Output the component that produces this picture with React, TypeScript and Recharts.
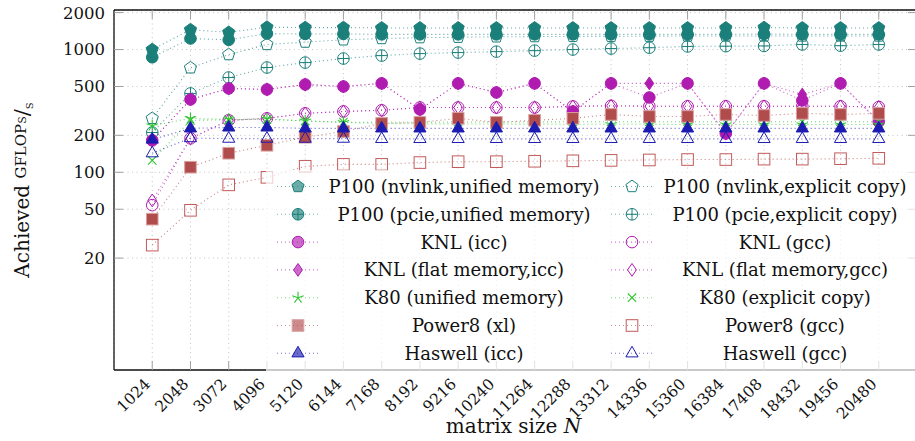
import React from 'react';
import { LineChart, Line, XAxis, YAxis, CartesianGrid, Legend } from 'recharts';

// matrix sizes N (x categories)
const sizes = [
  1024, 2048, 3072, 4096, 5120, 6144, 7168, 8192, 9216, 10240,
  11264, 12288, 13312, 14336, 15360, 16384, 17408, 18432, 19456, 20480,
];
const yTicks = [20, 50, 100, 200, 500, 1000, 2000];

// achieved GFLOP/s per series
const p100NvlinkUnified = [1000, 1450, 1380, 1520, 1510, 1510, 1500, 1500, 1500, 1500, 1500, 1500, 1500, 1500, 1500, 1500, 1510, 1500, 1500, 1500];
const p100NvlinkExplicit = [275, 710, 910, 1100, 1150, 1200, 1230, 1250, 1260, 1270, 1275, 1280, 1280, 1285, 1290, 1290, 1290, 1290, 1290, 1290];
const p100PcieUnified = [865, 1230, 1200, 1350, 1340, 1340, 1330, 1330, 1330, 1330, 1330, 1330, 1330, 1330, 1330, 1330, 1340, 1330, 1330, 1330];
const p100PcieExplicit = [211, 439, 592, 714, 783, 845, 893, 927, 945, 962, 980, 1000, 1019, 1035, 1060, 1065, 1070, 1100, 1075, 1100];
const knlIcc = [182, 392, 482, 473, 519, 500, 530, 325, 530, 447, 530, 313, 530, 407, 530, 207, 530, 385, 530, 258];
const knlGcc = [54, 189, 265, 275, 302, 313, 320, 337, 337, 337, 337, 344, 348, 345, 345, 345, 345, 345, 345, 340];
const knlFlatIcc = [182, 392, 482, 473, 519, 500, 530, 325, 530, 447, 530, 313, 530, 530, 530, 207, 530, 430, 530, 258];
const knlFlatGcc = [59, 189, 265, 275, 302, 313, 320, 337, 337, 337, 337, 344, 348, 345, 345, 345, 345, 345, 345, 340];
const k80Unified = [240, 275, 270, 272, 262, 255, 250, 248, 248, 247, 247, 246, 246, 246, 245, 245, 245, 245, 245, 245];
const k80Explicit = [125, 265, 268, 270, 262, 256, 256, 256, 257, 257, 257, 258, 258, 258, 258, 258, 258, 258, 258, 258];
const power8Xl = [41.5, 110, 143, 166, 193, 215, 250, 255, 275, 255, 265, 275, 296, 285, 285, 296, 290, 302, 296, 302];
const power8Gcc = [25.5, 49, 79, 91, 112, 116, 116, 120, 122, 122, 123, 124, 125, 126, 127, 127, 128, 128, 129, 130];
const haswellIcc = [185, 228, 232, 232, 228, 228, 228, 228, 228, 228, 228, 228, 228, 228, 228, 228, 228, 228, 228, 228];
const haswellGcc = [143, 190, 188, 188, 188, 188, 187, 187, 187, 187, 187, 187, 187, 187, 187, 187, 187, 187, 187, 187];

const TEAL = '#1b7f7a';
const MAGENTA = '#b01cb0';
const GREEN = '#2fc42f';
const RED = '#b14c4c';
const BLUE = '#1c1cb0';
const FONT = '"DejaVu Serif", serif';

type Mark = 'pentagon' | 'oplus' | 'circle' | 'diamond' | 'star' | 'cross' | 'square' | 'triangle';

interface Series {
  key: string;
  name: string;
  values: number[];
  color: string;
  mark: Mark;
  filled: boolean;
}

// same order as the legend (row by row)
const series: Series[] = [
  { key: 'nvU', name: 'P100 (nvlink,unified memory)', values: p100NvlinkUnified, color: TEAL, mark: 'pentagon', filled: true },
  { key: 'nvE', name: 'P100 (nvlink,explicit copy)', values: p100NvlinkExplicit, color: TEAL, mark: 'pentagon', filled: false },
  { key: 'pcU', name: 'P100 (pcie,unified memory)', values: p100PcieUnified, color: TEAL, mark: 'oplus', filled: true },
  { key: 'pcE', name: 'P100 (pcie,explicit copy)', values: p100PcieExplicit, color: TEAL, mark: 'oplus', filled: false },
  { key: 'knlI', name: 'KNL (icc)', values: knlIcc, color: MAGENTA, mark: 'circle', filled: true },
  { key: 'knlG', name: 'KNL (gcc)', values: knlGcc, color: MAGENTA, mark: 'circle', filled: false },
  { key: 'knlFI', name: 'KNL (flat memory,icc)', values: knlFlatIcc, color: MAGENTA, mark: 'diamond', filled: true },
  { key: 'knlFG', name: 'KNL (flat memory,gcc)', values: knlFlatGcc, color: MAGENTA, mark: 'diamond', filled: false },
  { key: 'k80U', name: 'K80 (unified memory)', values: k80Unified, color: GREEN, mark: 'star', filled: true },
  { key: 'k80E', name: 'K80 (explicit copy)', values: k80Explicit, color: GREEN, mark: 'cross', filled: false },
  { key: 'p8X', name: 'Power8 (xl)', values: power8Xl, color: RED, mark: 'square', filled: true },
  { key: 'p8G', name: 'Power8 (gcc)', values: power8Gcc, color: RED, mark: 'square', filled: false },
  { key: 'hwI', name: 'Haswell (icc)', values: haswellIcc, color: BLUE, mark: 'triangle', filled: true },
  { key: 'hwG', name: 'Haswell (gcc)', values: haswellGcc, color: BLUE, mark: 'triangle', filled: false },
];

const data = sizes.map((n, i) => {
  const row: Record<string, number> = { n };
  series.forEach((s) => {
    row[s.key] = s.values[i];
  });
  return row;
});

function drawMark(s: Series, cx: number, cy: number, fillOpacity = 1) {
  const fill = s.filled ? s.color : 'none';
  const common = { stroke: s.color, strokeWidth: 1, fill, fillOpacity };
  switch (s.mark) {
    case 'circle':
      return <circle cx={cx} cy={cy} r={5.8} {...common} />;
    case 'pentagon': {
      const pts = [0, 1, 2, 3, 4]
        .map((k) => {
          const a = ((-90 + k * 72) * Math.PI) / 180;
          return `${cx + 6.4 * Math.cos(a)},${cy + 6.4 * Math.sin(a)}`;
        })
        .join(' ');
      return <polygon points={pts} {...common} />;
    }
    case 'oplus':
      return (
        <g>
          <circle cx={cx} cy={cy} r={5.8} {...common} />
          <line x1={cx - 5.8} y1={cy} x2={cx + 5.8} y2={cy} stroke={s.color} strokeWidth={1} />
          <line x1={cx} y1={cy - 5.8} x2={cx} y2={cy + 5.8} stroke={s.color} strokeWidth={1} />
        </g>
      );
    case 'diamond':
      return (
        <polygon
          points={`${cx},${cy - 6.4} ${cx + 4.4},${cy} ${cx},${cy + 6.4} ${cx - 4.4},${cy}`}
          {...common}
        />
      );
    case 'star':
      return (
        <g stroke={s.color} strokeWidth={1.1}>
          {[0, 1, 2, 3, 4].map((k) => {
            const a = ((-90 + k * 72) * Math.PI) / 180;
            return <line key={k} x1={cx} y1={cy} x2={cx + 6 * Math.cos(a)} y2={cy + 6 * Math.sin(a)} />;
          })}
        </g>
      );
    case 'cross':
      return (
        <g stroke={s.color} strokeWidth={1.1}>
          <line x1={cx - 4.2} y1={cy - 4.2} x2={cx + 4.2} y2={cy + 4.2} />
          <line x1={cx - 4.2} y1={cy + 4.2} x2={cx + 4.2} y2={cy - 4.2} />
        </g>
      );
    case 'square':
      return (
        <rect
          x={cx - 5.8}
          y={cy - 5.8}
          width={11.6}
          height={11.6}
          {...common}
          stroke={s.filled ? '#d9a0a0' : '#c45a5a'}
        />
      );
    case 'triangle':
      return (
        <polygon
          points={`${cx},${cy - 7} ${cx + 6.1},${cy + 3.6} ${cx - 6.1},${cy + 3.6}`}
          {...common}
        />
      );
  }
  return null;
}

function BottomTick(props: any) {
  const { x, y, payload } = props;
  const tx = x - 1;
  const ty = y + 15;
  return (
    <g>
      <line x1={x} y1={y} x2={x} y2={y - 9} stroke="#a0a0a0" strokeWidth={1} />
      <text
        x={tx}
        y={ty}
        transform={`rotate(-45 ${tx} ${ty})`}
        textAnchor="end"
        fontFamily={FONT}
        fontSize={15.5}
        fill="#111"
      >
        {payload.value}
      </text>
    </g>
  );
}

function TopTick(props: any) {
  const { x, y } = props;
  return <line x1={x} y1={y} x2={x} y2={y + 9} stroke="#a0a0a0" strokeWidth={1} />;
}

function LeftTick(props: any) {
  const { x, y, payload } = props;
  return (
    <g>
      <line x1={x} y1={y} x2={x + 9} y2={y} stroke="#a0a0a0" strokeWidth={1} />
      <text x={x - 9} y={y} dy="0.36em" textAnchor="end" fontFamily={FONT} fontSize={16.5} fill="#111">
        {payload.value}
      </text>
    </g>
  );
}

function RightTick(props: any) {
  const { x, y } = props;
  return <line x1={x} y1={y} x2={x - 9} y2={y} stroke="#a0a0a0" strokeWidth={1} />;
}

function XTitle(props: any) {
  const { viewBox } = props;
  const cx = viewBox.x + viewBox.width / 2 - 2;
  return (
    <text x={cx} y={viewBox.y + 63} textAnchor="middle" fontFamily={FONT} fontSize={20} fill="#111">
      matrix size <tspan fontStyle="italic">N</tspan>
    </text>
  );
}

function YTitle() {
  return (
    <text
      x={29}
      y={190}
      transform="rotate(-90 29 190)"
      textAnchor="middle"
      fontFamily={FONT}
      fill="#111"
    >
      <tspan fontSize={20}>Achieved </tspan>
      <tspan fontSize={15} dy={-3} fontVariant="small-caps">GFLOPs</tspan>
      <tspan fontSize={21} dy={3}>/</tspan>
      <tspan fontSize={14} dy={4} fontVariant="small-caps">s</tspan>
    </text>
  );
}

const ROW0 = 16.5;
const ROW_H = 27.8;

function LegendBox() {
  return (
    <svg width={651} height={202} style={{ display: 'block' }}>
      <rect x={0} y={0} width={651} height={202} fill="#fff" fillOpacity={0.7} />
      {series.map((s, i) => {
        const row = Math.floor(i / 2);
        const col = i % 2;
        const cy = ROW0 + row * ROW_H;
        const mx = col === 0 ? 32 : 366;
        const tx = col === 0 ? 198 : 519;
        return (
          <g key={s.key}>
            <line
              x1={mx - 21}
              y1={cy}
              x2={mx + 21}
              y2={cy}
              stroke={s.color}
              strokeOpacity={0.6}
              strokeWidth={1.1}
              strokeDasharray="1 3"
            />
            {drawMark(s, mx, cy, 0.65)}
            <text x={tx} y={cy} dy="0.36em" textAnchor="middle" fontFamily={FONT} fontSize={18} fill="#111">
              {s.name}
            </text>
          </g>
        );
      })}
    </svg>
  );
}

export default function App() {
  return (
    <div
      style={{
        position: 'fixed',
        left: 0,
        top: 0,
        width: 915,
        height: 441,
        overflow: 'hidden',
        background: '#fff',
      }}
    >
      <LineChart width={918} height={441} data={data} margin={{ top: 9, right: 0, bottom: 0, left: 0 }}>
        <CartesianGrid stroke="#c4c4c4" strokeDasharray="1 3.5" strokeWidth={1} />
        <XAxis
          dataKey="n"
          type="number"
          domain={[0, 21504]}
          ticks={sizes}
          interval={0}
          allowDataOverflow
          height={71}
          tickSize={0}
          tickMargin={0}
          tickLine={false}
          axisLine={{ stroke: '#111', strokeWidth: 1.3 }}
          tick={<BottomTick />}
          label={<XTitle />}
        />
        <XAxis
          xAxisId="top"
          orientation="top"
          dataKey="n"
          type="number"
          domain={[0, 21504]}
          ticks={sizes}
          interval={0}
          allowDataOverflow
          height={1}
          tickSize={0}
          tickMargin={0}
          tickLine={false}
          axisLine={{ stroke: '#111', strokeWidth: 1.3 }}
          tick={<TopTick />}
        />
        <YAxis
          type="number"
          scale="log"
          domain={[2.45, 2100]}
          ticks={yTicks}
          interval={0}
          allowDataOverflow
          width={114}
          tickSize={0}
          tickMargin={0}
          tickLine={false}
          axisLine={{ stroke: '#111', strokeWidth: 1.3 }}
          tick={<LeftTick />}
        />
        <YAxis
          yAxisId="right"
          orientation="right"
          type="number"
          scale="log"
          domain={[2.45, 2100]}
          ticks={yTicks}
          interval={0}
          allowDataOverflow
          width={1}
          tickSize={0}
          tickMargin={0}
          tickLine={false}
          axisLine={{ stroke: '#111', strokeWidth: 1.3 }}
          tick={<RightTick />}
        />
        {series.map((s) => (
          <Line
            key={s.key}
            dataKey={s.key}
            name={s.name}
            stroke={s.color}
            strokeOpacity={0.7}
            strokeWidth={1.1}
            strokeDasharray="1 3"
            isAnimationActive={false}
            activeDot={false}
            dot={(p: any) => (
              <g key={`${s.key}-${p.index}`}>{drawMark(s, p.cx, p.cy)}</g>
            )}
          />
        ))}
        <Legend
          layout="horizontal"
          verticalAlign="middle"
          align="center"
          wrapperStyle={{ left: 266, top: 170, width: 651, height: 202, margin: 0, padding: 0 }}
          content={() => <LegendBox />}
        />
      </LineChart>
      <svg
        width={915}
        height={441}
        style={{ position: 'absolute', left: 0, top: 0, pointerEvents: 'none' }}
      >
        <YTitle />
      </svg>
    </div>
  );
}
